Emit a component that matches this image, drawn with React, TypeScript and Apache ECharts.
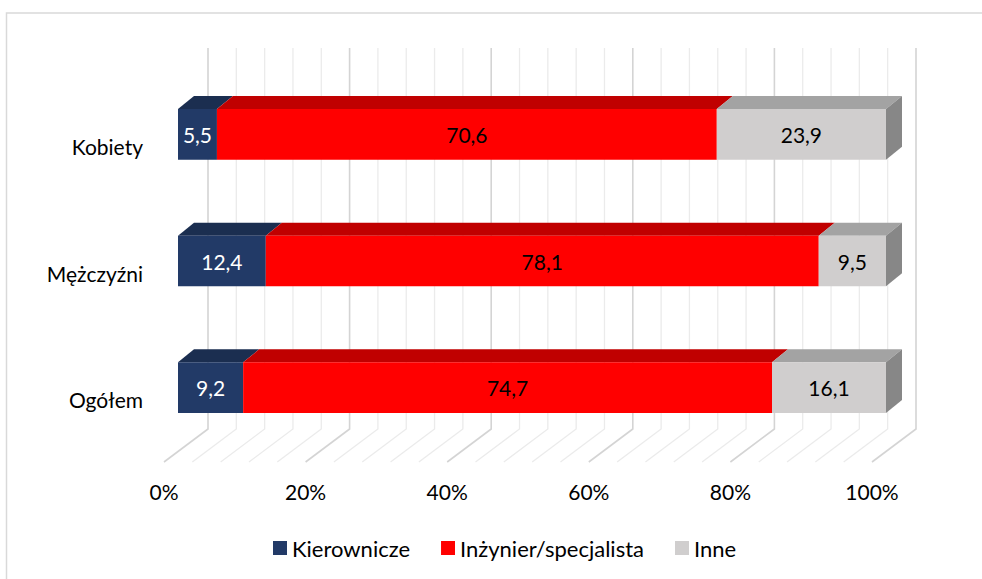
import React, { useEffect, useRef } from "react";
import * as echarts from "echarts";

const categories = ["Ogółem", "Mężczyźni", "Kobiety"];
const seriesNames = ["Kierownicze", "Inżynier/specjalista", "Inne"];
const kierownicze = [9.2, 12.4, 5.5];
const inzynier = [74.7, 78.1, 70.6];
const inne = [16.1, 9.5, 23.9];
const gridTicks = [0, 4, 8, 12, 16, 20, 24, 28, 32, 36, 40, 44, 48, 52, 56, 60, 64, 68, 72, 76, 80, 84, 88, 92, 96, 100];

const FONT = "Lato";
const palette = [
  { front: "#223A67", top: "#1B2E50", side: "#16263F", label: "#FFFFFF" },
  { front: "#FF0000", top: "#C00000", side: "#A00000", label: "#000000" },
  { front: "#D0CECE", top: "#A3A3A3", side: "#878787", label: "#000000" },
];

export default function App() {
  const ref = useRef<HTMLDivElement>(null);
  useEffect(() => {
    if (!ref.current) return;
    const chart = echarts.init(ref.current, undefined, { renderer: "svg" });
    const all = [kierownicze, inzynier, inne];
    const starts = categories.map(() => 0);
    const stackedData = all.map((vals) =>
      vals.map((v, i) => {
        const s = starts[i];
        starts[i] = s + v;
        return [s, s + v, i, v];
      })
    );
    const DX = 16;
    const DY = -13;

    const barSeries = stackedData.map((data, si) => ({
      type: "custom",
      name: seriesNames[si],
      itemStyle: { color: palette[si].front },
      data,
      encode: { x: [0, 1], y: 2 },
      z: 10 + si,
      renderItem: (params: any, api: any) => {
        const s = api.value(0);
        const e = api.value(1);
        const c = api.value(2);
        const v = api.value(3);
        const p0 = api.coord([s, c]);
        const p1 = api.coord([e, c]);
        const h = api.size([0, 1])[1] * 0.4;
        const x0 = p0[0];
        const x1 = p1[0];
        const yT = p0[1] - h / 2;
        const yB = p0[1] + h / 2;
        const col = palette[si];
        const children: any[] = [
          {
            type: "polygon",
            shape: { points: [[x0, yT], [x1, yT], [x1 + DX, yT + DY], [x0 + DX, yT + DY]] },
            style: { fill: col.top },
          },
          {
            type: "rect",
            shape: { x: x0, y: yT, width: x1 - x0, height: h },
            style: { fill: col.front },
          },
        ];
        if (si === all.length - 1) {
          children.push({
            type: "polygon",
            shape: { points: [[x1, yT], [x1 + DX, yT + DY], [x1 + DX, yB + DY], [x1, yB]] },
            style: { fill: col.side },
          });
        }
        children.push({
          type: "text",
          style: {
            text: v.toFixed(1).replace(".", ","),
            x: (x0 + x1) / 2,
            y: p0[1],
            align: "center",
            verticalAlign: "middle",
            fill: col.label,
            font: `21px ${FONT}`,
          },
        });
        return { type: "group", children };
      },
    }));

    const gridSeries = {
      type: "custom",
      name: "grid",
      silent: true,
      z: 1,
      data: gridTicks.map((t) => [t, 0]),
      encode: { x: 0, y: 1 },
      renderItem: (params: any, api: any) => {
        const t = api.value(0);
        const x = api.coord([t, 0])[0];
        const cs = params.coordSys;
        const top = cs.y - 23;
        const wallBottom = cs.y + cs.height - 22;
        const floor = cs.y + cs.height + 11;
        const major = t % 20 === 0;
        const stroke = major ? "#D4D4D4" : "#EBEBEB";
        return {
          type: "polyline",
          shape: {
            points: [
              [x + 30, top],
              [x + 30, wallBottom],
              [x - 14, floor],
            ],
          },
          style: { stroke, lineWidth: major ? 1.6 : 1.3, fill: "none" },
        };
      },
    };

    chart.setOption({
      animation: false,
      backgroundColor: "#FFFFFF",
      textStyle: { fontFamily: FONT },
      grid: { left: 178, width: 708, top: 71, height: 380 },
      legend: {
        data: seriesNames,
        bottom: 15,
        left: 268,
        icon: "rect",
        itemWidth: 14,
        itemHeight: 14,
        itemGap: 31,
        textStyle: { fontSize: 22, color: "#000000", fontFamily: FONT },
      },
      xAxis: {
        type: "value",
        min: 0,
        max: 100,
        interval: 20,
        axisLine: { show: false },
        axisTick: { show: false },
        splitLine: { show: false },
        axisLabel: {
          formatter: "{value}%",
          fontSize: 21,
          color: "#000000",
          margin: 30,
          padding: [0, 28, 0, 0],
        },
      },
      yAxis: {
        type: "category",
        data: categories,
        axisLine: { show: false },
        axisTick: { show: false },
        splitLine: { show: false },
        axisLabel: {
          fontSize: 21,
          color: "#000000",
          margin: 35,
          verticalAlign: "top",
          lineHeight: 24,
        },
      },
      graphic: [
        {
          type: "rect",
          shape: { x: 6.5, y: 13, width: 1000, height: 600 },
          style: { fill: "none", stroke: "#D9D9D9", lineWidth: 1.5 },
          silent: true,
          z: -1,
        },
      ],
      series: [gridSeries, ...barSeries],
    });
    return () => chart.dispose();
  }, []);
  return (
    <div
      ref={ref}
      style={{ position: "fixed", left: 0, top: 0, width: 982, height: 579 }}
    />
  );
}
